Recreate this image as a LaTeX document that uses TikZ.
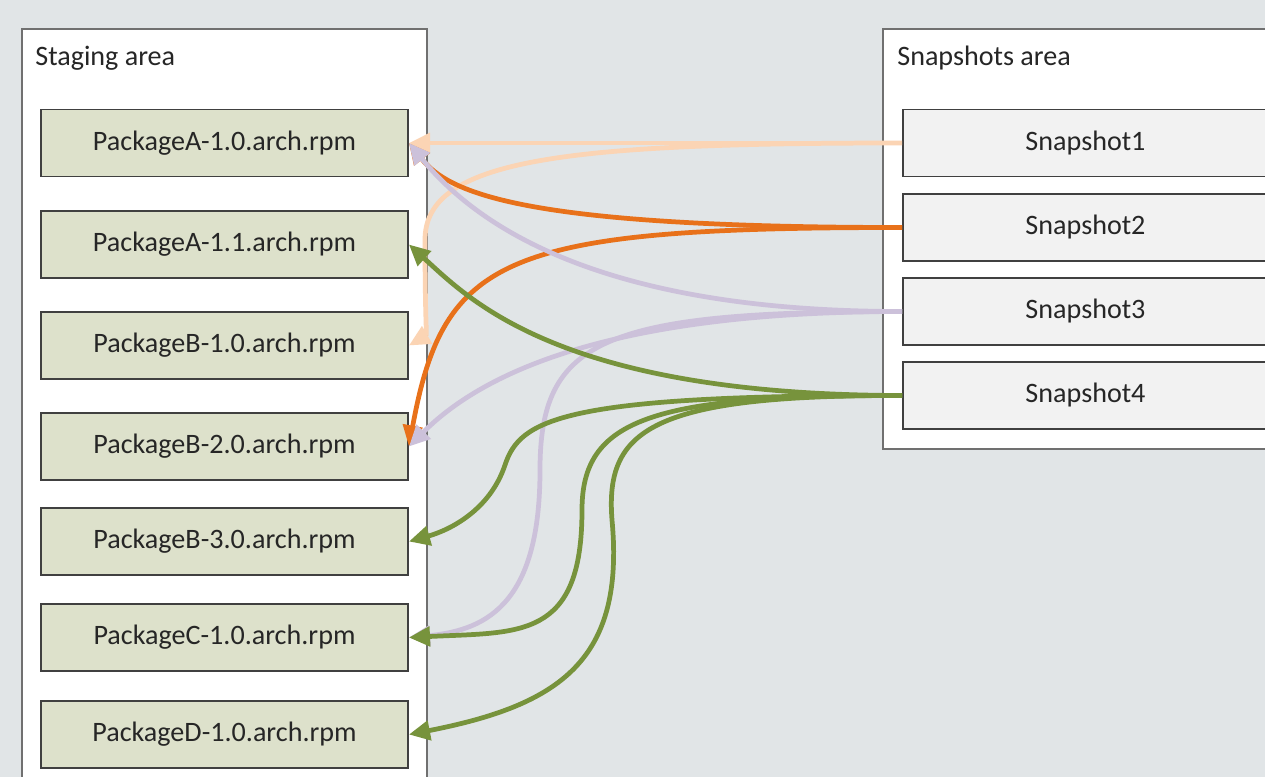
\documentclass[tikz,border=0pt]{standalone}
\usepackage{fontspec}
\setmainfont{Carlito}
\usetikzlibrary{arrows.meta}

\definecolor{bggray}{HTML}{E1E5E7}
\definecolor{pkgfill}{HTML}{DDE1CB}
\definecolor{snapfill}{HTML}{F2F2F2}
\definecolor{boxline}{HTML}{404040}
\definecolor{arealine}{HTML}{707070}
\definecolor{peachline}{HTML}{FBD4B4}
\definecolor{orangeline}{HTML}{E8711A}
\definecolor{lilacline}{HTML}{CCC1DA}
\definecolor{oliveline}{HTML}{77933C}

\tikzset{
	area/.style={draw=arealine,line width=0.8pt,fill=white},
	pkg/.style={draw=boxline,line width=1.1pt,fill=pkgfill,minimum width=7.34cm,minimum height=1.34cm,font=\fontsize{16}{19}\selectfont,text=black!85},
	snap/.style={pkg,fill=snapfill,minimum width=7.3cm},
	title/.style={anchor=west,inner sep=0pt,font=\fontsize{16}{19}\selectfont,text=black!85},
	link/.style={line width=2.7pt,-{Triangle[length=12pt,width=11pt]}}
}

\begin{document}
\begin{tikzpicture}[x=0.02cm,y=-0.02cm]
			\clip (0,0) rectangle (1265,777);
			\fill[bggray] (0,0) rectangle (1265,777);
			% the two areas
			\draw[area] (22,29) rectangle (427,800);
			\draw[area] (883,29) rectangle (1290,449);
			\draw (35,58) node [title] (stg) {Staging area};
			\draw (897,58) node [title] (snp) {Snapshots area};
			% packages
			\draw (224.5,143) node [pkg] (a10) {PackageA-1.0.arch.rpm};
			\draw (224.5,244.5) node [pkg] (a11) {PackageA-1.1.arch.rpm};
			\draw (224.5,345.5) node [pkg] (b10) {PackageB-1.0.arch.rpm};
			\draw (224.5,446.5) node [pkg] (b20) {PackageB-2.0.arch.rpm};
			\draw (224.5,541.5) node [pkg] (b30) {PackageB-3.0.arch.rpm};
			\draw (224.5,637.5) node [pkg] (c10) {PackageC-1.0.arch.rpm};
			\draw (224.5,734.5) node [pkg] (d10) {PackageD-1.0.arch.rpm};
			% snapshots
			\draw (1085.5,143) node [snap] (s1) {Snapshot1};
			\draw (1085.5,227.5) node [snap] (s2) {Snapshot2};
			\draw (1085.5,311.5) node [snap] (s3) {Snapshot3};
			\draw (1085.5,395.5) node [snap] (s4) {Snapshot4};
			% Snapshot1
			\draw[link,peachline] (s1.west) -- (a10.east);
			\draw[link,peachline] (s1.west) .. controls (560,143) and (425,160) .. (425,240)
				.. controls (425,320) and (427,335) .. (b10.east);
			% Snapshot2
			\draw[link,orangeline] (s2.west) .. controls +(-380,0) and +(40,50) .. (a10.east);
			\draw[link,orangeline] (s2.west) .. controls +(-400,0) and +(35,-190) .. (b20.east);
			% Snapshot3
			\draw[link,lilacline] (s3.west) .. controls +(-250,0) and +(90,110) .. (a10.east);
			\draw[link,lilacline] (s3.west) .. controls +(-300,0) and +(70,-70) .. (b20.east);
			\draw[link,lilacline] (s3.west) .. controls +(-300,0) and (540,340) .. (540,470)
				.. controls (540,600) and (490,630) .. (c10.east);
			% Snapshot4
			\draw[link,oliveline] (s4.west) .. controls (560,395) and (470,300) .. (a11.east);
			\draw[link,oliveline] (s4.west) .. controls (560,395) and (520,420) .. (505,465)
				.. controls (490,510) and (450,530) .. (b30.east);
			\draw[link,oliveline] (s4.west) .. controls (650,395) and (582,420) .. (582,510)
				.. controls (582,640) and (520,632) .. (c10.east);
			\draw[link,oliveline] (s4.west) .. controls (650,395) and (605,430) .. (612,520)
				.. controls (625,660) and (560,705) .. (d10.east);
\end{tikzpicture}
\end{document}
